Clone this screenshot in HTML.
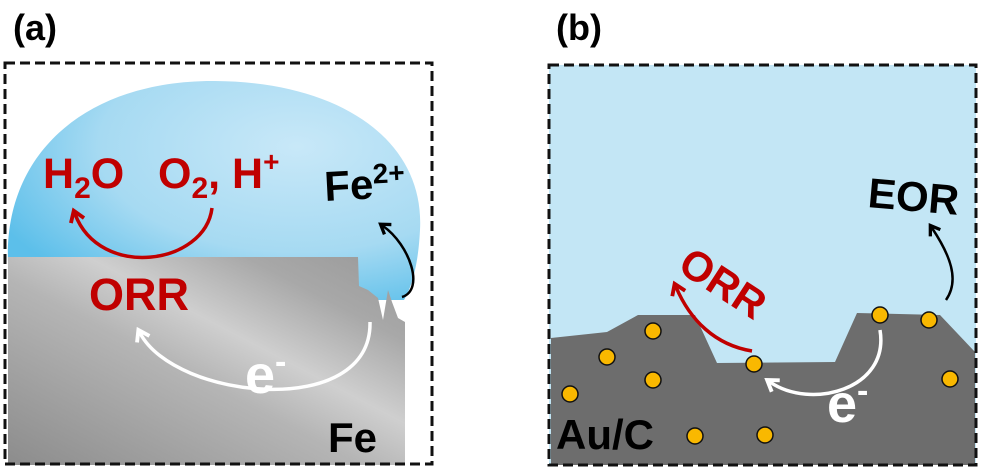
<!DOCTYPE html>
<html><head><meta charset="utf-8"><style>
html,body{margin:0;padding:0;background:#fff;width:981px;height:472px;overflow:hidden}
svg text{font-family:"Liberation Sans",Arial,sans-serif;font-weight:bold}
</style></head><body>
<svg width="981" height="472" viewBox="0 0 981 472" xmlns="http://www.w3.org/2000/svg">
<defs>
<radialGradient id="wat" cx="0.7" cy="0.3" r="0.8">
<stop offset="0" stop-color="#c8e8f8"/><stop offset="0.6" stop-color="#a6daf2"/><stop offset="1" stop-color="#5cbfea"/>
</radialGradient>
<linearGradient id="fe" x1="0" y1="1" x2="1" y2="0">
<stop offset="0" stop-color="#8c8c8c"/><stop offset="0.45" stop-color="#b5b5b5"/><stop offset="0.6" stop-color="#cfcfcf"/><stop offset="0.8" stop-color="#a8a8a8"/><stop offset="1" stop-color="#999"/>
</linearGradient>
<marker id="ar" viewBox="0 0 10 10" refX="5" refY="5" markerWidth="5" markerHeight="5" orient="auto"><path d="M1,1 L7,5 L1,9" fill="none" stroke="#c00000" stroke-width="2.2"/></marker>
<marker id="ak" viewBox="0 0 10 10" refX="5" refY="5" markerWidth="6" markerHeight="6" orient="auto"><path d="M1,1 L7,5 L1,9" fill="none" stroke="#000" stroke-width="2.2"/></marker>
<marker id="aw" viewBox="0 0 10 10" refX="5" refY="5" markerWidth="5" markerHeight="5" orient="auto"><path d="M1,1 L7,5 L1,9" fill="none" stroke="#fff" stroke-width="2.2"/></marker>
</defs>

<!-- panel a -->
<text x="13" y="40" font-size="36">(a)</text>
<path d="M8,262 C4,150 90,80 215,81 C340,82 425,140 420,230 C418,270 410,290 404,300 L8,300 Z" fill="url(#wat)"/>
<path d="M8,257 L358,257 L359,286 L368,290 L378,298 L383,320 L388,290 L392,302 L398,318 L405,322 L405,465 L8,465 Z" fill="url(#fe)"/>
<rect x="5" y="63" width="427" height="401" fill="none" stroke="#111" stroke-width="3" stroke-dasharray="10,5"/>
<text x="43" y="188" font-size="43" fill="#c00000">H<tspan font-size="30" dy="10">2</tspan><tspan dy="-10">O</tspan></text>
<text x="158" y="188" font-size="43" fill="#c00000">O<tspan font-size="30" dy="10">2</tspan><tspan dy="-10">, H</tspan><tspan font-size="28" dy="-17">+</tspan></text>
<text x="325" y="201" font-size="42" fill="#000" transform="rotate(-3 325 201)">Fe<tspan font-size="28" dy="-15">2+</tspan></text>
<text x="89" y="310" font-size="45" fill="#c00000">ORR</text>
<text x="245" y="393" font-size="54" fill="#fff">e<tspan font-size="34" dy="-20">-</tspan></text>
<text x="328" y="452" font-size="42" fill="#000">Fe</text>
<path d="M212,208 C205,265 100,280 75,214" fill="none" stroke="#c00000" stroke-width="3.5" marker-end="url(#ar)"/>
<path d="M402,297 C425,290 410,245 383,226" fill="none" stroke="#000" stroke-width="2.5" marker-end="url(#ak)"/>
<path d="M370,322 C372,420 175,400 140,333" fill="none" stroke="#fff" stroke-width="3.5" marker-end="url(#aw)"/>

<!-- panel b -->
<text x="556" y="40" font-size="36">(b)</text>
<rect x="549" y="65" width="427" height="400" fill="#c3e6f5"/>
<path d="M551,338 L607,332 L638,315 L695,315 L717,363 L835,362 L857,313 L940,315 L975,352 L975,465 L551,465 Z" fill="#6d6d6d"/>
<rect x="549" y="65" width="427" height="400" fill="none" stroke="#111" stroke-width="3" stroke-dasharray="10,5"/>
<g fill="#f9b800" stroke="#111" stroke-width="1.5">
<circle cx="653" cy="331" r="8"/><circle cx="607" cy="357" r="8"/><circle cx="653" cy="380" r="8"/><circle cx="570" cy="394" r="8"/><circle cx="754" cy="364" r="8"/><circle cx="880" cy="315" r="8"/><circle cx="929" cy="320" r="8"/><circle cx="950" cy="379" r="8"/><circle cx="695" cy="436" r="8"/><circle cx="765" cy="435" r="8"/>
</g>
<text x="867" y="207" font-size="42" fill="#000" transform="rotate(5 867 207)">EOR</text>
<text x="676" y="270" font-size="42" fill="#c00000" transform="rotate(33 676 270)">ORR</text>
<text x="827" y="422" font-size="54" fill="#fff">e<tspan font-size="34" dy="-20">-</tspan></text>
<text x="556" y="449" font-size="42" fill="#000">Au/C</text>
<path d="M752,351 C715,345 690,320 676,287" fill="none" stroke="#c00000" stroke-width="3.5" marker-end="url(#ar)"/>
<path d="M946,300 C960,280 950,255 932,228" fill="none" stroke="#000" stroke-width="2.5" marker-end="url(#ak)"/>
<path d="M880,330 C890,390 810,410 770,382" fill="none" stroke="#fff" stroke-width="3.5" marker-end="url(#aw)"/>
</svg>
</body></html>
